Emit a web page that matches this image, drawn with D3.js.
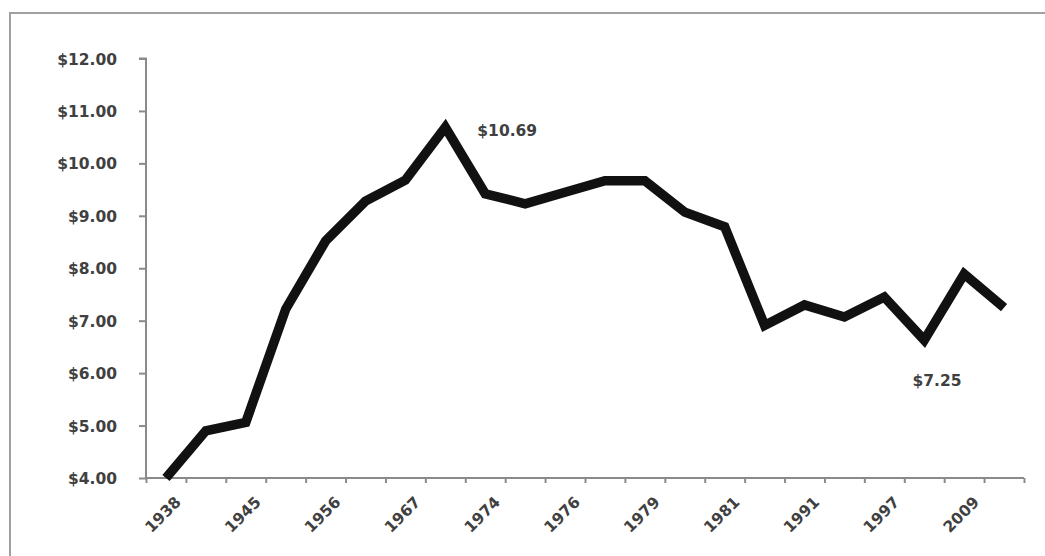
<!DOCTYPE html>
<html>
<head>
<meta charset="utf-8">
<script src="https://cdn.jsdelivr.net/npm/d3@7"></script>
<style>
  html, body { margin: 0; padding: 0; background: #fff; }
  svg { display: block; }
  text { font-family: "DejaVu Sans", "Open Sans", sans-serif; }
</style>
</head>
<body>
<svg id="chart" width="1045" height="556"></svg>
<script>
// ---- data ----
const categories = ["1938","1939","1945","1950","1956","1961","1967","1968","1974","1975","1976",
                    "1978","1979","1980","1981","1990","1991","1996","1997","2007","2008","2009"];
const wageValues = [4.00, 4.90, 5.06, 7.22, 8.52, 9.28, 9.68, 10.69, 9.42, 9.23, 9.45,
                    9.67, 9.67, 9.07, 8.79, 6.91, 7.30, 7.07, 7.45, 6.63, 7.89, 7.25];
const tickLabels = ["1938","1945","1956","1967","1974","1976","1979","1981","1991","1997","2009"];
const yTicks = [4, 5, 6, 7, 8, 9, 10, 11, 12];
const annotations = [
  { index: 7, text: "$10.69" },
  { index: 21, text: "$7.25" }
];

// ---- layout ----
const svg = d3.select("#chart");
const plotLeft = 146, plotRight = 1024, plotTop = 58.5, plotBottom = 478;
const labelColor = "#404040", labelSize = 15.5, labelWeight = "bold";

// outer frame (top and left visible)
svg.append("rect")
  .attr("x", 10).attr("y", 13)
  .attr("width", 1200).attr("height", 700)
  .attr("fill", "none").attr("stroke", "#a0a0a0").attr("stroke-width", 2);

const x = d3.scaleBand().domain(d3.range(categories.length)).range([plotLeft, plotRight]).padding(0);
const xEdges = d3.scaleLinear().domain([0, categories.length]).range([plotLeft, plotRight]);
const y = d3.scaleLinear().domain([4, 12]).range([plotBottom, plotTop]);

// y axis
const yAxis = svg.append("g")
  .attr("transform", `translate(${plotLeft},0)`)
  .call(d3.axisLeft(y).tickValues(yTicks).tickSize(7).tickPadding(22)
        .tickFormat(d => "$" + d.toFixed(2)));
yAxis.attr("font-family", null);
yAxis.select(".domain").attr("stroke", "#8a8a8a").attr("stroke-width", 2)
  .attr("d", `M-7,${plotTop}H0V${plotBottom}`);
yAxis.selectAll(".tick line").attr("stroke", "#8a8a8a").attr("stroke-width", 2);
yAxis.selectAll(".tick text")
  .attr("fill", labelColor).attr("font-size", labelSize).attr("font-weight", labelWeight)
  .attr("dy", "0.36em");

// x axis (ticks between categories)
const xAxis = svg.append("g")
  .attr("transform", `translate(0,${plotBottom})`)
  .call(d3.axisBottom(xEdges).tickValues(d3.range(categories.length + 1)).tickSize(5)
        .tickFormat(""));
xAxis.select(".domain").attr("stroke", "#8a8a8a").attr("stroke-width", 2)
  .attr("d", `M${plotLeft},0H${plotRight}`);
xAxis.selectAll(".tick line").attr("stroke", "#8a8a8a").attr("stroke-width", 2);

// x labels, every second category
svg.append("g").selectAll("text")
  .data(tickLabels)
  .join("text")
  .attr("transform", (d, i) => {
    const cx = x(i * 2) + x.bandwidth() / 2;
    return `translate(${cx + 16},${plotBottom + 25}) rotate(-45)`;
  })
  .attr("text-anchor", "end")
  .attr("fill", labelColor).attr("font-size", labelSize).attr("font-weight", labelWeight)
  .text(d => d);

// line
const line = d3.line()
  .x((d, i) => x(i) + x.bandwidth() / 2)
  .y(d => y(d));
svg.append("path")
  .datum(wageValues)
  .attr("d", line)
  .attr("fill", "none")
  .attr("stroke", "#111")
  .attr("stroke-width", 9.5)
  .attr("stroke-linejoin", "miter")
  .attr("stroke-linecap", "butt");

// annotations
const annPos = {
  7: (cx, cy) => [cx + 32, cy + 9, "start"],
  21: (cx, cy) => [cx - 67, cy + 78, "middle"]
};
svg.append("g").selectAll("text")
  .data(annotations)
  .join("text")
  .each(function(d) {
    const cx = x(d.index) + x.bandwidth() / 2;
    const cy = y(wageValues[d.index]);
    const p = annPos[d.index](cx, cy);
    d3.select(this).attr("x", p[0]).attr("y", p[1]).attr("text-anchor", p[2]);
  })
  .attr("fill", labelColor).attr("font-size", labelSize).attr("font-weight", labelWeight)
  .text(d => d.text);
</script>
</body>
</html>
